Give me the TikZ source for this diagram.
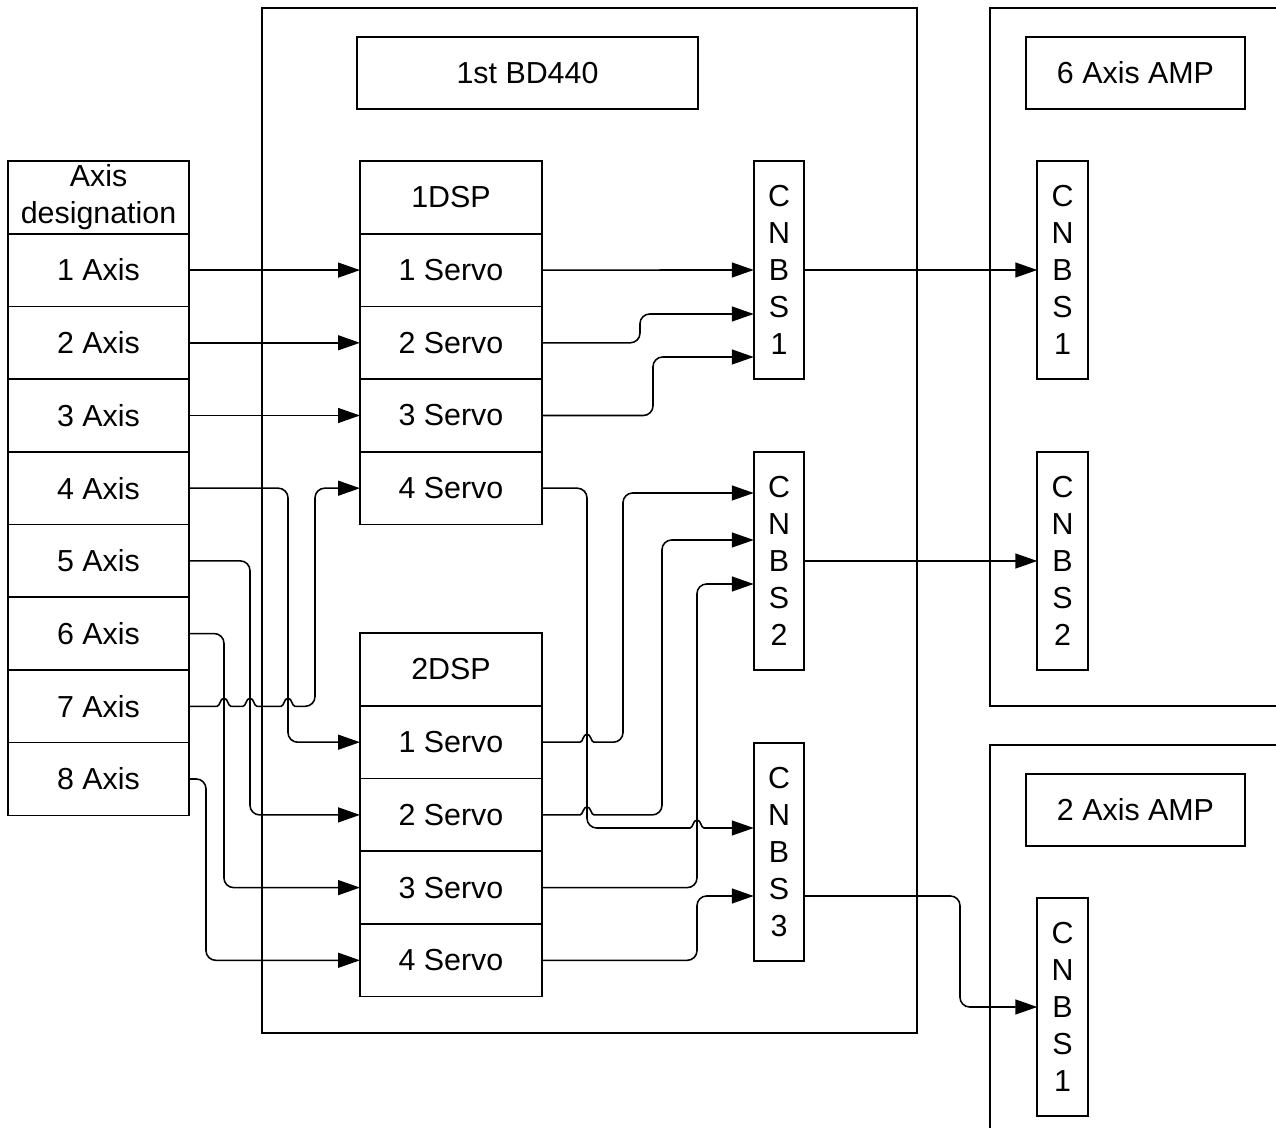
\documentclass[tikz,border=0pt]{standalone}
\usepackage{fontspec}
\setmainfont{Liberation Sans}
\usetikzlibrary{arrows.meta,positioning}

\tikzset{
	box/.style={draw, line width=0.9pt, inner sep=0pt, outer sep=0pt, align=center, font=\fontsize{17.3}{21}\selectfont},
	cell/.style={box, minimum width=3.62cm, minimum height=1.454cm},
	srv/.style={box, minimum width=3.64cm, minimum height=1.454cm},
	cnbs/.style={box, minimum width=1.01cm, minimum height=4.36cm},
	namebox/.style={box, minimum height=1.44cm},
	frame/.style={line width=0.9pt},
	wire/.style={line width=0.9pt, rounded corners=5.5pt, -{Triangle[length=12.5pt,width=8.5pt]}},
	% line hop over a crossing wire
	hop/.style 2 args={insert path={[sharp corners] -- (#1-7,#2) .. controls (#1-4,#2) and (#1-4,#2+8) .. (#1,#2+8) .. controls (#1+4,#2+8) and (#1+4,#2) .. (#1+7,#2) -- (#1+12,#2) [rounded corners=5.5pt]}}
}

\begin{document}
\begin{tikzpicture}[x=0.02cm, y=0.02cm]
	\useasboundingbox (0,0) rectangle (1276,-1128);

	% Frames
	\draw[frame] (262,-8) rectangle (917,-1033);
	\draw[frame] (1276,-8) -- (990,-8) -- (990,-706) -- (1276,-706);
	\draw[frame] (1276,-745) -- (990,-745) -- (990,-1128);
	\node[namebox, minimum width=6.82cm] (bdname) at (527.5,-73) {1st BD440};
	\node[namebox, minimum width=4.38cm] (amp6name) at (1135.5,-73) {6 Axis AMP};
	\node[namebox, minimum width=4.38cm] (amp2name) at (1135.5,-810) {2 Axis AMP};

	% Axis table
	\foreach \i in {1,...,8}
		\node[cell] (a\i) at (98.5,{-197.4-72.7*\i}) {\i{} Axis};
	\node[cell, above=0pt of a1] (axhead) {Axis\\designation};

	% DSP tables
	\foreach \i in {1,...,4} {
		\node[srv] (sA\i) at (451,{-197.4-72.7*\i}) {\i{} Servo};
		\node[srv] (sB\i) at (451,{-669.5-72.7*\i}) {\i{} Servo};
	}
	\node[srv, above=0pt of sA1] (dspA) {1DSP};
	\node[srv, above=0pt of sB1] (dspB) {2DSP};

	% CNBS connectors
	\node[cnbs] (cn1) at (779,-270) {C\\N\\B\\S\\1};
	\node[cnbs] (cn2) at (779,-561) {C\\N\\B\\S\\2};
	\node[cnbs] (cn3) at (779,-852) {C\\N\\B\\S\\3};
	\node[cnbs] (amp1) at (1062.5,-270) {C\\N\\B\\S\\1};
	\node[cnbs] (amp2) at (1062.5,-561) {C\\N\\B\\S\\2};
	\node[cnbs] (amp3) at (1062.5,-1007) {C\\N\\B\\S\\1};

	% Axis -> Servo
	\draw[wire] (a1.east) -- (sA1.west);
	\draw[wire] (a2.east) -- (sA2.west);
	\draw[wire] (a3.east) -- (sA3.west);
	\draw[wire] (a4.east) -- ++(99,0) |- (sB1.west);
	\draw[wire] (a5.east) -- ++(61,0) |- (sB2.west);
	\draw[wire] (a6.east) -- ++(35,0) |- (sB3.west);
	\draw[wire] (a7.east) [hop={224}{-706.3}] [hop={250}{-706.3}] [hop={288}{-706.3}] -- (315,-706.3) |- (sA4.west);
	\draw[wire] (a8.east) -- ++(17,0) |- (sB4.west);

	% Servo -> CNBS
	\draw[wire] (sA1.east) -- (cn1.west);
	\draw[wire] (sA2.east) -- (640,-342.8) |- (cn1.west |- 0,-314);
	\draw[wire] (sA3.east) -- (653,-415.5) |- (cn1.west |- 0,-357);
	\draw[wire] (sA4.east) -- (587,-488.2) -- (587,-828) -- (650,-828) [hop={697}{-828}] -- (cn3.west |- 0,-828);
	\draw[wire] (sB1.east) [hop={587}{-742.2}] -- (623,-742.2) |- (cn2.west |- 0,-493);
	\draw[wire] (sB2.east) [hop={587}{-814.9}] -- (662,-814.9) |- (cn2.west |- 0,-540);
	\draw[wire] (sB3.east) -- (697,-887.6) |- (cn2.west |- 0,-584);
	\draw[wire] (sB4.east) -- (697,-960.3) |- (cn3.west |- 0,-896);

	% CNBS -> AMP
	\draw[wire] (cn1.east) -- (amp1.west);
	\draw[wire] (cn2.east) -- (amp2.west);
	\draw[wire] (cn3.east |- 0,-896) -- (960,-896) |- (amp3.west);
\end{tikzpicture}
\end{document}
